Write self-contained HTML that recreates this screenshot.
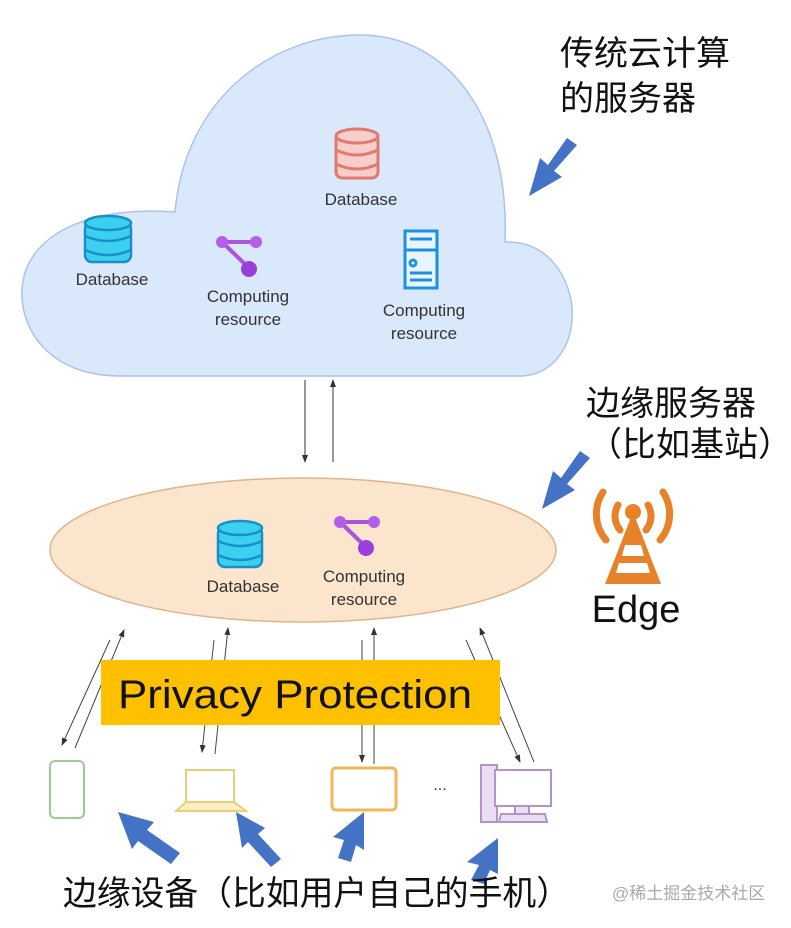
<!DOCTYPE html>
<html><head><meta charset="utf-8"><style>
body{margin:0;background:#fff}
svg{display:block}
.cn{font-family:"Liberation Sans","Noto Sans CJK SC",sans-serif;fill:#111}
.en{font-family:"Liberation Sans",sans-serif;fill:#333}
</style></head><body>
<svg width="791" height="928" viewBox="0 0 791 928" xmlns="http://www.w3.org/2000/svg">
<defs>
<marker id="ah" markerWidth="8" markerHeight="8" refX="7" refY="4" orient="auto" markerUnits="userSpaceOnUse"><path d="M0,1 L8,4 L0,7 Z" fill="#333"/></marker>
</defs>
<path d="M120 376 C50 376 20 330 22 290 C24 240 80 205 175 212 C185 100 270 35 360 35 C450 35 510 120 505 242 C555 240 575 290 572 320 C570 350 550 376 520 376 Z" fill="#dae8fc" stroke="#a9c4eb" stroke-width="1.5"/>
<g fill="#f8cecc" stroke="#e07a6e" stroke-width="3">
<rect x="336" y="134" width="42" height="44" rx="6"/>
<ellipse cx="357" cy="136" rx="21" ry="7"/>
<path d="M336 150 q21 10 42 0 M336 164 q21 10 42 0" fill="none"/>
</g>
<text class="en" x="361" y="205" font-size="17" text-anchor="middle">Database</text>
<g fill="#3cd0f0" stroke="#1b8ec8" stroke-width="2.5">
<rect x="85" y="222" width="46" height="40" rx="7"/>
<ellipse cx="108" cy="223" rx="23" ry="7"/>
<path d="M85 236 q23 10 46 0 M85 250 q23 10 46 0" fill="none"/>
</g>
<text class="en" x="112" y="285" font-size="17" text-anchor="middle">Database</text>
<g><line x1="222" y1="242" x2="256" y2="242" stroke="#a855e0" stroke-width="4"/><line x1="222" y1="242" x2="249" y2="268" stroke="#a855e0" stroke-width="4"/>
<circle cx="222" cy="242" r="6" fill="#b45ee8"/><circle cx="256" cy="242" r="6" fill="#b45ee8"/><circle cx="249" cy="269" r="8" fill="#9b3fdc"/></g>
<text class="en" x="248" y="302" font-size="17" text-anchor="middle">Computing</text>
<text class="en" x="248" y="325" font-size="17" text-anchor="middle">resource</text>
<g fill="none" stroke="#1d8fe0" stroke-width="3">
<rect x="405" y="231" width="32" height="57" fill="#e8f4ff"/>
<line x1="410" y1="239" x2="432" y2="239"/><line x1="405" y1="250" x2="437" y2="250"/>
<circle cx="413" cy="263" r="3"/><line x1="410" y1="273" x2="432" y2="273"/><line x1="410" y1="280" x2="432" y2="280"/>
</g>
<text class="en" x="424" y="316" font-size="17" text-anchor="middle">Computing</text>
<text class="en" x="424" y="339" font-size="17" text-anchor="middle">resource</text>
<text class="cn" x="560" y="65" font-size="34">传统云计算</text>
<text class="cn" x="560" y="110" font-size="34">的服务器</text>
<path d="M577 145 L567 138 L548 165 L540 158 L529 196 L562 177 L554 171 Z" fill="#4472c4"/>
<line x1="305" y1="380" x2="305" y2="462" stroke="#333" marker-end="url(#ah)"/>
<line x1="333" y1="462" x2="333" y2="380" stroke="#333" marker-end="url(#ah)"/>
<ellipse cx="303" cy="550" rx="253" ry="72" fill="#fbe5cd" stroke="#e0b48a" stroke-width="1.5"/>
<g fill="#3cd0f0" stroke="#1b8ec8" stroke-width="2.5">
<rect x="218" y="527" width="44" height="40" rx="7"/>
<ellipse cx="240" cy="528" rx="22" ry="7"/>
<path d="M218 541 q22 10 44 0 M218 555 q22 10 44 0" fill="none"/>
</g>
<text class="en" x="243" y="592" font-size="17" text-anchor="middle">Database</text>
<g><line x1="340" y1="522" x2="374" y2="522" stroke="#a855e0" stroke-width="4"/><line x1="340" y1="522" x2="366" y2="547" stroke="#a855e0" stroke-width="4"/>
<circle cx="340" cy="522" r="6" fill="#b45ee8"/><circle cx="374" cy="522" r="6" fill="#b45ee8"/><circle cx="366" cy="548" r="8" fill="#9b3fdc"/></g>
<text class="en" x="364" y="582" font-size="17" text-anchor="middle">Computing</text>
<text class="en" x="364" y="605" font-size="17" text-anchor="middle">resource</text>
<text class="cn" x="586" y="415" font-size="34">边缘服务器</text>
<text class="cn" x="588" y="456" font-size="34">（比如基站）</text>
<path d="M590 458 L580 451 L561 478 L553 471 L542 509 L575 490 L567 484 Z" fill="#4472c4"/>
<g fill="none" stroke="#e8822a" stroke-width="7" stroke-linecap="round">
<path d="M603 492 A40 40 0 0 0 606 540"/><path d="M663 492 A40 40 0 0 1 660 540"/>
<path d="M618 505 A22 22 0 0 0 620 530"/><path d="M648 505 A22 22 0 0 1 646 530"/>
</g>
<circle cx="633" cy="512" r="8" fill="#e8822a"/>
<path d="M633 512 L605 584 L661 584 Z" fill="#e8822a"/>
<path d="M625 545 L641 545 L644 556 L622 556 Z M619 563 L647 563 L650 573 L616 573 Z" fill="#fff"/>
<text x="636" y="622" font-size="38" font-family="Liberation Sans,sans-serif" fill="#111" text-anchor="middle">Edge</text>
<g stroke="#444" stroke-width="1">
<line x1="110" y1="640" x2="62" y2="745" marker-end="url(#ah)"/>
<line x1="75" y1="748" x2="124" y2="630" marker-end="url(#ah)"/>
<line x1="214" y1="640" x2="202" y2="752" marker-end="url(#ah)"/>
<line x1="215" y1="754" x2="228" y2="628" marker-end="url(#ah)"/>
<line x1="362" y1="640" x2="362" y2="762" marker-end="url(#ah)"/>
<line x1="374" y1="764" x2="374" y2="628" marker-end="url(#ah)"/>
<line x1="466" y1="640" x2="520" y2="762" marker-end="url(#ah)"/>
<line x1="534" y1="762" x2="480" y2="628" marker-end="url(#ah)"/>
</g>
<rect x="101" y="660" width="399" height="65" fill="#ffc000"/>
<text x="118" y="708" font-size="40" font-family="Liberation Sans,sans-serif" fill="#111" textLength="354" lengthAdjust="spacingAndGlyphs">Privacy Protection</text>
<rect x="50" y="761" width="34" height="57" rx="5" fill="#fff" stroke="#9ccc8f" stroke-width="2"/>
<g stroke="#e9cf7a" stroke-width="2" fill="#fff"><rect x="186" y="770" width="48" height="32"/><path d="M186 802 L176 811 L246 811 L234 802 Z" fill="#fcefc0"/></g>
<rect x="332" y="768" width="64" height="42" rx="4" fill="#fff" stroke="#f3b55a" stroke-width="3"/>
<text x="440" y="790" font-size="16" fill="#333" font-family="Liberation Sans,sans-serif" text-anchor="middle">...</text>
<g stroke="#b494c8" stroke-width="2" fill="#eadff2"><rect x="481" y="765" width="16" height="57"/><rect x="495" y="770" width="56" height="36" fill="#fff"/><rect x="515" y="806" width="14" height="8"/><path d="M501 814 L545 814 L547 822 L499 822 Z"/></g>
<g fill="#4472c4">
<path d="M118 812 L154 822 L147 830 L180 853 L171 864 L138 841 L132 849 Z"/>
<path d="M236 812 L265 828 L258 834 L281 859 L271 867 L248 842 L242 848 Z"/>
<path d="M364 812 L364 850 L356 845 L351 862 L338 858 L344 840 L333 837 Z"/>
<path d="M498 838 L498 874 L490 870 L484 884 L471 880 L479 865 L467 862 Z"/>
</g>
<text class="cn" x="63" y="905" font-size="34" textLength="507" lengthAdjust="spacingAndGlyphs">边缘设备（比如用户自己的手机）</text>
<text x="612" y="899" font-size="17" fill="#aaa" font-family="Liberation Sans,'Noto Sans CJK SC',sans-serif">@稀土掘金技术社区</text>
</svg>
</body></html>
